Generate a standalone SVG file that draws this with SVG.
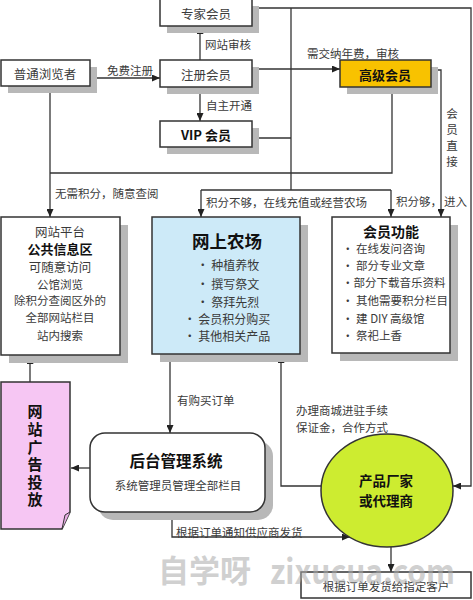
<svg xmlns="http://www.w3.org/2000/svg" width="473" height="600" viewBox="0 0 473 600">
<style>
text{font-family:"Noto Sans CJK SC","Noto Sans",sans-serif;fill:#3a3a3a;dominant-baseline:central}
.c{text-anchor:middle}
.b{font-weight:bold;fill:#111}
.l{font-size:11.5px}
.v{writing-mode:vertical-rl;text-anchor:middle}
.box{fill:#fff;stroke:#333;stroke-width:1.5}
.sh{fill:#b8b8b8}
.ln{fill:none;stroke:#333;stroke-width:1.3}
.ar{marker-end:url(#ah)}
</style>
<defs>
<marker id="ah" markerWidth="8" markerHeight="7" refX="8" refY="3.5" orient="auto" markerUnits="userSpaceOnUse">
<path d="M0,0 L8,3.5 L0,7 z" fill="#222"/>
</marker>
</defs>
<rect width="473" height="600" fill="#fff"/>

<g id="connectors">
<path class="ln ar" d="M90,78 H160"/>
<path class="ln ar" d="M200,60 V26"/>
<path class="ln ar" d="M200,87 V121"/>
<path class="ln ar" d="M252,69 H340"/>
<path class="ln ar" d="M252,8 H471 V486 H453"/>
<path class="ln" d="M291,8 V190"/>
<path class="ln" d="M252,138 H291"/>
<path class="ln" d="M201,190 H391"/>
<path class="ln ar" d="M201,190 V217"/>
<path class="ln ar" d="M391,190 V217"/>
<path class="ln" d="M392,87 V173 H50"/>
<path class="ln ar" d="M50,87 V217"/>
<path class="ln ar" d="M431,70 H441 V217"/>
<path class="ln ar" d="M30,382 V356"/>
<path class="ln ar" d="M90,468 H71"/>
<path class="ln ar" d="M170,354 V433"/>
<path class="ln ar" d="M172,512 V537 H350"/>
<path class="ln ar" d="M321,486 H281 V355"/>
<path class="ln ar" d="M391,547 V572"/>
<text class="l" x="107" y="70">免费注册</text>
<text class="l" x="205" y="44">网站审核</text>
<text class="l" x="206" y="105">自主开通</text>
<text class="l" x="307" y="53">需交纳年费，审核</text>
<text class="l v" x="452" y="140" letter-spacing="4.5">会员直接</text>
<text class="l" x="55" y="193">无需积分，随意查阅</text>
<text class="l" x="206" y="202">积分不够，在线充值或经营农场</text>
<text class="l" x="396" y="201">积分够，</text>
<text class="l" x="444" y="201">进入</text>
<text class="l" x="177" y="400">有购买订单</text>
<text class="l" x="176" y="532">根据订单通知供应商发货</text>
<text class="l" x="296" y="410">办理商城进驻手续</text>
<text class="l" x="296" y="427">保证金，合作方式</text>
</g>

<g id="expert">
<rect class="sh" x="167" y="6" width="92" height="27"/>
<rect class="box" x="160" y="-1" width="92" height="27"/>
<text class="c" x="206" y="13" font-size="12.5">专家会员</text>
</g>

<g id="visitor">
<rect class="sh" x="8" y="67" width="89" height="26"/>
<rect class="box" x="1" y="60" width="89" height="26"/>
<text class="c" x="45" y="73" font-size="12.5">普通浏览者</text>
</g>

<g id="registered">
<rect class="sh" x="167" y="67" width="92" height="27"/>
<rect class="box" x="160" y="60" width="92" height="27"/>
<text class="c" x="206" y="74" font-size="12.5">注册会员</text>
</g>

<g id="vip">
<rect class="sh" x="167" y="128" width="92" height="26"/>
<rect class="box" x="160" y="121" width="92" height="26"/>
<text class="c b" x="206" y="134" font-size="13">VIP 会员</text>
</g>

<g id="senior">
<rect class="sh" x="347" y="67" width="91" height="27"/>
<rect x="340" y="60" width="91" height="27" fill="#F8C200" stroke="#333" stroke-width="1.5"/>
<text class="c b" x="385" y="74" font-size="13">高级会员</text>
</g>

<g id="public">
<rect class="sh" x="9" y="225" width="119" height="138"/>
<rect class="box" x="1" y="217" width="119" height="138"/>
<text class="c" x="60" y="231" font-size="12.5">网站平台</text>
<text class="c b" x="60" y="248.5" font-size="13">公共信息区</text>
<text class="c" x="60" y="266.5" font-size="12.5">可随意访问</text>
<text class="c" x="60" y="283.5" font-size="11.5">公馆浏览</text>
<text class="c" x="60" y="300" font-size="11.5">除积分查阅区外的</text>
<text class="c" x="60" y="317" font-size="11.5">全部网站栏目</text>
<text class="c" x="60" y="335" font-size="11.5">站内搜索</text>
</g>

<g id="farm">
<rect class="sh" x="160" y="225" width="148" height="137"/>
<rect x="152" y="217" width="148" height="137" fill="#CDEAF8" stroke="#333" stroke-width="1.5"/>
<text class="c b" x="227" y="240" font-size="17.5">网上农场</text>
<text class="c" x="228" y="264" font-size="12">• 种植养牧</text>
<text class="c" x="228" y="283" font-size="12">• 撰写祭文</text>
<text class="c" x="228" y="301" font-size="12">• 祭拜先烈</text>
<text class="c" x="227" y="318" font-size="12">• 会员积分购买</text>
<text class="c" x="227" y="335" font-size="12">• 其他相关产品</text>
</g>

<g id="member">
<rect class="sh" x="340" y="225" width="118" height="136"/>
<rect class="box" x="332" y="217" width="118" height="136"/>
<text class="c b" x="391" y="231" font-size="14">会员功能</text>
<text x="342" y="248" font-size="11.5">• 在线发问咨询</text>
<text x="342" y="265" font-size="11.5">• 部分专业文章</text>
<text x="342" y="282" font-size="11.5">•部分下载音乐资料</text>
<text x="342" y="300" font-size="11.5">• 其他需要积分栏目</text>
<text x="342" y="318" font-size="11.5">• 建 DIY 高级馆</text>
<text x="342" y="335" font-size="11.5">• 祭祀上香</text>
</g>

<g id="ads">
<path d="M1,382 H70 V512 L62,529 H1 Z" fill="#F6C6F3" stroke="#333" stroke-width="1.5"/>
<path d="M62,529 L65,515 L70,512" fill="#E8AEE4" stroke="#333" stroke-width="1"/>
<text class="b v" x="35" y="457" font-size="15" letter-spacing="2.6">网站广告投放</text>
</g>

<g id="backend">
<rect class="sh" x="98" y="441" width="175" height="79" rx="15"/>
<rect class="box" x="90" y="433" width="175" height="79" rx="15"/>
<text class="c b" x="176" y="460" font-size="15.5">后台管理系统</text>
<text class="c" x="178" y="485" font-size="11.5">系统管理员管理全部栏目</text>
</g>

<g id="vendor">
<ellipse cx="387" cy="490.5" rx="66" ry="56.5" fill="#CDEC30" stroke="#333" stroke-width="1.5"/>
<text class="c b" x="386" y="480" font-size="13.5">产品厂家</text>
<text class="c b" x="386" y="500" font-size="13.5">或代理商</text>
</g>

<g id="delivery">
<rect class="box" x="301" y="572" width="170" height="26"/>
<text class="c" x="386" y="586" font-size="11.5">根据订单发货给指定客户</text>
</g>

<g id="watermark" opacity="0.55">
<text x="158" y="568" font-size="31" font-weight="bold" style="fill:#aaa">自学呀</text>
<text x="270" y="569" font-size="34" font-weight="bold" textLength="185" lengthAdjust="spacingAndGlyphs" style="fill:#aaa">zixucua.com</text>
</g>
</svg>
